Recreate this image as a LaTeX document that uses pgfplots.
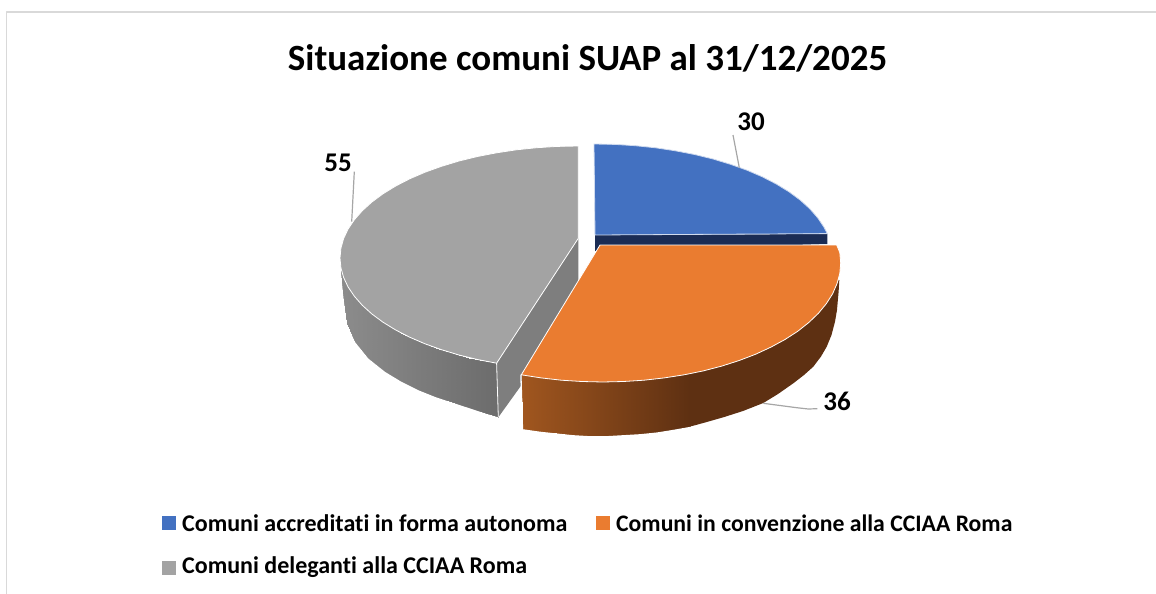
\documentclass[border=0pt]{standalone}
\usepackage{pgfplots}
\pgfplotsset{compat=1.18}
\usepackage{fontspec}
\setmainfont[Ligatures=CommonOff]{Carlito}
\definecolor{cblue}{RGB}{67,113,193}
\definecolor{cbluedk}{RGB}{27,44,84}
\definecolor{corange}{RGB}{234,124,48}
\definecolor{corangedk}{RGB}{94,48,18}
\definecolor{cgray}{RGB}{163,163,163}
\definecolor{cgrayface}{RGB}{126,126,126}
\definecolor{cframe}{RGB}{217,217,217}
\definecolor{cleader}{RGB}{166,166,166}
\begin{document}
\begin{tikzpicture}[line join=round]
\begin{axis}[
  hide axis, scale only axis, width=1156pt, height=594pt,
  xmin=0, xmax=1156, ymin=0, ymax=594, y dir=reverse,
  point meta min=0, point meta max=3,
  colormap={pie}{rgb255(0cm)=(160,86,31) rgb255(1cm)=(94,48,18) rgb255(2cm)=(140,140,140) rgb255(3cm)=(108,108,108)},
]
\path (axis cs:0,0) -- (axis cs:1156,594);
% frame
\addplot[cframe, line width=1.5pt] coordinates {(6.5,594) (6.5,12) (1156,12)};
% gray wall
\addplot[patch, patch type=rectangle, shader=interp, point meta=explicit] table[meta=c] {
x y c
340 258 2
341 270 2.01
343.3 295 2.02
341 272 2
341 270 2.01
343.6 277.4 2.02
346.7 323.3 2.04
343.3 295 2.02
343.6 277.4 2.02
354.4 296.3 2.09
355 341.7 2.09
346.7 323.3 2.04
354.4 296.3 2.09
368.3 310 2.18
368.3 358.3 2.18
355 341.7 2.09
368.3 310 2.18
385 323 2.28
385 371.7 2.28
368.3 358.3 2.18
385 323 2.28
401.7 334 2.39
401.7 381.7 2.39
385 371.7 2.28
401.7 334 2.39
418.3 341 2.5
418.3 390 2.5
401.7 381.7 2.39
418.3 341 2.5
435 348 2.6
435 396.7 2.6
418.3 390 2.5
435 348 2.6
451.7 353 2.71
451.7 402.3 2.71
435 396.7 2.6
451.7 353 2.71
468.3 357.5 2.81
468.3 407.7 2.81
451.7 402.3 2.71
468.3 357.5 2.81
485 361 2.92
485 413.3 2.92
468.3 407.7 2.81
485 361 2.92
496.6 363.2 3
498.3 417.3 3
485 413.3 2.92
};
\addplot[white, line width=1.3pt] coordinates {(340.2,272) (342.5,295.4) (345.9,323.9) (354.4,342.4) (367.8,359) (384.6,372.4) (401.3,382.5) (418,390.8) (434.7,397.5) (451.4,403.1) (468,408.5) (484.8,414.1) (498.3,418.1)};
% gray cut face
\addplot[fill=cgrayface, draw=none] coordinates {(496.6,363.2) (578.3,238.3) (578.3,306) (498.3,417.3)} --cycle;
\addplot[white, line width=0.8pt] coordinates {(496.6,363.2) (498.3,417.3)};
% gray top
\addplot[fill=cgray, draw=white, line width=0.8pt] coordinates {
(578.3,238.3) (578.3,146) (557.3,146.4) (536.7,147.7) (516.4,149.8) (496.6,152.8) (477.4,156.5) (459,161) (441.5,166.3) (425,172.2) (409.7,178.8) (395.7,186) (383,193.8) (371.9,202) (362.3,210.7) (354.4,219.7) (348.1,229) (343.6,238.6) (340.9,248.2) (340,258) (340.9,267.8) (343.6,277.4) (348.1,287) (354.4,296.3) (362.3,305.3) (371.9,314) (383,322.2) (395.7,330) (409.7,337.2) (425,343.8) (441.5,349.7) (459,355) (477.4,359.5) (496.6,363.2)} --cycle;
% blue wall
\addplot[fill=cbluedk, draw=none] coordinates {(595,235) (827.3,234) (827.3,244) (595,251)} --cycle;
% blue top
\addplot[fill=cblue, draw=white!75!cblue, line width=0.8pt] coordinates {
(595,235) (594,144) (614.8,144.4) (635.3,145.7) (655.6,147.8) (675.4,150.8) (694.6,154.5) (713,159) (730.5,164.3) (747,170.2) (762.3,176.8) (776.3,184) (789,191.8) (800.1,200) (809.7,208.7) (817.6,217.7) (823.9,227) (827.3,233.6)} --cycle;
% orange wall: dark part
\addplot[fill=corangedk, draw=none] coordinates {
(685,370) (685,428) (705,422.5) (723.3,417.3) (743,411) (763.3,403) (778,394) (793.3,383.3) (804,375) (813.3,366.7) (821,356.5) (826.7,346.7) (831.5,335) (835,321.7) (837,310) (837.6,303) (838.6,292) (839.3,280)} --cycle;
% orange wall: shaded part
\addplot[patch, patch type=rectangle, shader=interp, point meta=explicit] table[meta=c] {
x y c
521.7 374 0
540 375 0.11
540 431.5 0.11
523.3 429 0
540 375 0.11
556.7 376 0.21
556.7 433.3 0.21
540 431.5 0.11
556.7 376 0.21
573 377 0.3
573 435 0.3
556.7 433.3 0.21
573 377 0.3
590 378 0.4
590 436 0.4
573 435 0.3
590 378 0.4
606 378 0.5
606 436 0.5
590 436 0.4
606 378 0.5
623.3 378 0.6
623.3 435 0.6
606 436 0.5
623.3 378 0.6
640 376 0.7
640 434 0.7
623.3 435 0.6
640 376 0.7
656.7 375 0.8
656.7 432.3 0.8
640 434 0.7
656.7 375 0.8
673 373 0.9
673 429.7 0.9
656.7 432.3 0.8
673 373 0.9
690 370 1
690 426.7 1
673 429.7 0.9
};
\addplot[white, line width=1.3pt] coordinates {(520.9,374.5) (522.5,429.8) (539.9,432.3) (556.6,434.1) (573,435.8) (590,436.8) (606,436.8) (623.4,435.8) (640.2,434.8) (656.9,433.1) (673.2,430.5) (690.2,427.5) (695,426.5)};
% orange top
\addplot[fill=corange, draw=white, line width=0.8pt] coordinates {
(600,245) (836.7,245) (839.8,252.6) (840.7,263) (839.8,273.4) (837,283.7) (832.6,293.8) (826.3,303.7) (818.4,313.3) (808.8,322.5) (797.7,331.3) (785,339.5) (771,347.1) (755.7,354.2) (739.2,360.5) (721.7,366.1) (703.3,370.9) (684.1,374.8) (664.3,377.9) (644,380.2) (623.5,381.5) (602.7,382) (581.9,381.5) (561.4,380.2) (541.1,377.9) (521.3,374.8)} --cycle;
% leaders
\addplot[cleader, line width=1.2pt] coordinates {(739.3,167.7) (733,135)};
\addplot[cleader, line width=1.2pt] coordinates {(351.7,221.7) (354.3,171.7)};
\addplot[cleader, line width=1.2pt] coordinates {(763.3,403.3) (796.7,407.7) (808.3,409) (817.3,408.7)};
% legend keys
\addplot[fill=cblue, draw=none] coordinates {(162,516) (176,516) (176,530) (162,530)} --cycle;
\addplot[fill=corange, draw=none] coordinates {(596,516) (610,516) (610,530) (596,530)} --cycle;
\addplot[fill=cgray, draw=none] coordinates {(162,561) (176,561) (176,575) (162,575)} --cycle;
% text
\node[font=\fontsize{37}{40}\selectfont\bfseries] at (axis cs:587.5,58) {Situazione comuni SUAP al 31/12/2025};
\node[font=\fontsize{27}{29}\selectfont\bfseries] at (axis cs:751,122) {30};
\node[font=\fontsize{27}{29}\selectfont\bfseries] at (axis cs:338,163) {55};
\node[font=\fontsize{27}{29}\selectfont\bfseries] at (axis cs:837,401) {36};
\node[font=\fontsize{24}{26}\selectfont\bfseries, anchor=west, inner sep=0pt] at (axis cs:182,523) {Comuni accreditati in forma autonoma};
\node[font=\fontsize{23.7}{26}\selectfont\bfseries, anchor=west, inner sep=0pt] at (axis cs:616,523) {Comuni in convenzione alla CCIAA Roma};
\node[font=\fontsize{24}{26}\selectfont\bfseries, anchor=west, inner sep=0pt] at (axis cs:182,567) {Comuni deleganti alla CCIAA Roma};
\end{axis}
\end{tikzpicture}
\end{document}
